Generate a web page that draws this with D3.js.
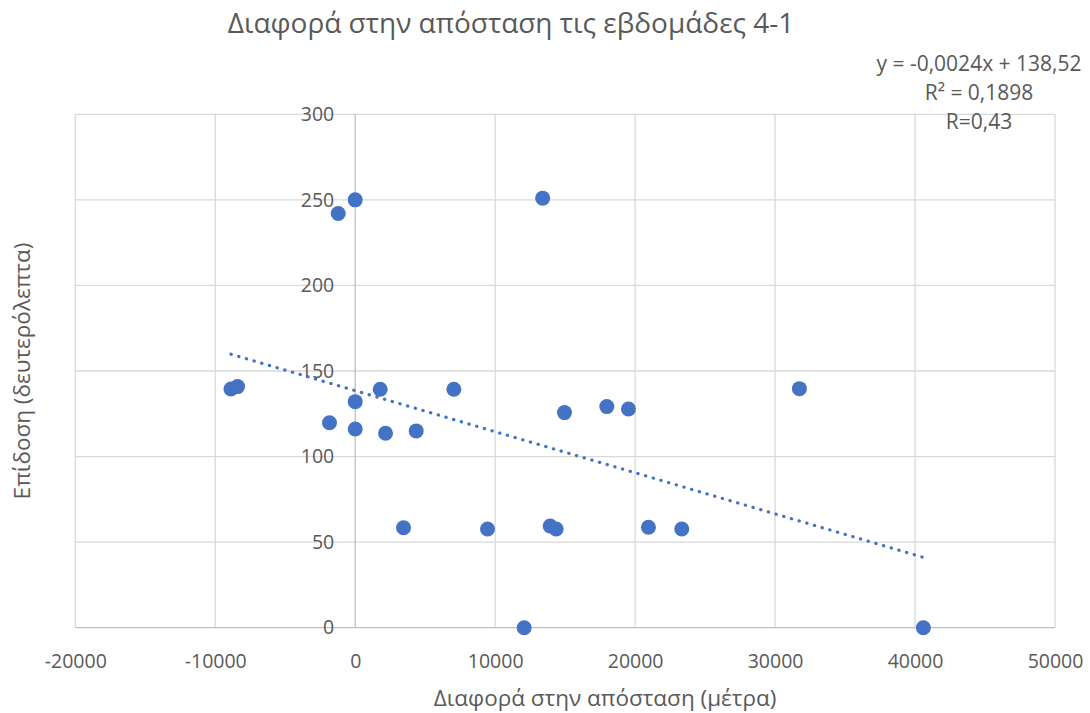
<!DOCTYPE html>
<html>
<head>
<meta charset="utf-8">
<script src="https://cdn.jsdelivr.net/npm/d3@7"></script>
<style>
  html, body { margin: 0; padding: 0; background: #fff; }
  svg text { font-family: "Open Sans", "Liberation Sans", sans-serif; fill: #595959; }
</style>
</head>
<body>
<svg id="chart" width="1090" height="713"></svg>
<script>
// Distance difference (m) between weeks 4 and 1, and performance (s)
const distanceDiff = [-8879, -8407, -1836, -1214, 0, 0, 0, 1786, 2167, 3452, 4357, 7048,
                      9452, 12071, 13393, 13929, 14357, 14952, 17976, 19524, 20952, 23333, 31738, 40595];
const performance  = [139.5, 140.9, 119.8, 242, 250, 132.1, 116.1, 139.3, 113.6, 58.4, 115, 139.3,
                      57.7, 0, 251, 59.4, 57.7, 125.7, 129.2, 127.8, 58.7, 57.7, 139.7, 0];

const xTicks = [-20000, -10000, 0, 10000, 20000, 30000, 40000, 50000];
const yTicks = [0, 50, 100, 150, 200, 250, 300];

// Linear trend line coefficients
const slope = -0.0024;
const intercept = 138.52;
const trendLabels = ["y = -0,0024x + 138,52", "R² = 0,1898", "R=0,43"];

const titleText = "Διαφορά στην απόσταση τις εβδομάδες 4-1";
const xTitle = "Διαφορά στην απόσταση (μέτρα)";
const yTitle = "Επίδοση (δευτερόλεπτα)";

const svg = d3.select("#chart");
const blue = "#4472C4";

const x = d3.scaleLinear().domain([-20000, 50000]).range([75.3, 1055]);
const y = d3.scaleLinear().domain([0, 300]).range([627.7, 114.3]);

// Grid
const grid = svg.append("g");
grid.selectAll("line.v").data(xTicks.filter(d => d !== 0)).join("line")
  .attr("x1", d => x(d)).attr("x2", d => x(d))
  .attr("y1", y(300)).attr("y2", y(0))
  .attr("stroke", "#d9d9d9").attr("stroke-width", 1.3);
grid.selectAll("line.h").data(yTicks.filter(d => d !== 0)).join("line")
  .attr("x1", x(-20000)).attr("x2", x(50000))
  .attr("y1", d => y(d)).attr("y2", d => y(d))
  .attr("stroke", "#d9d9d9").attr("stroke-width", 1.3);

// Axis lines through zero
svg.append("line").attr("x1", x(0)).attr("x2", x(0)).attr("y1", y(300)).attr("y2", y(0))
  .attr("stroke", "#bfbfbf").attr("stroke-width", 1.3);
svg.append("line").attr("x1", x(-20000)).attr("x2", x(50000)).attr("y1", y(0)).attr("y2", y(0))
  .attr("stroke", "#bfbfbf").attr("stroke-width", 1.3);

// X tick labels along the bottom
const xAxis = d3.axisBottom(x).tickValues(xTicks).tickSize(0).tickPadding(0);
const gx = svg.append("g").attr("transform", `translate(0,${y(0) + 34})`).call(xAxis);
gx.select(".domain").remove();
gx.selectAll("text").attr("font-size", 19.5).attr("fill", "#595959")
  .attr("font-family", "Open Sans").attr("dy", "0.32em").text(d => d3.format("d")(d).replace("−", "-"));

// Y tick labels next to the vertical zero axis
const yAxis = d3.axisLeft(y).tickValues(yTicks).tickSize(0).tickPadding(0);
const gy = svg.append("g").attr("transform", `translate(${x(0) - 21},0)`).call(yAxis);
gy.select(".domain").remove();
gy.selectAll("text").attr("font-size", 19.5).attr("fill", "#595959").attr("font-family", "Open Sans");

// Trend line across the data range
const xr = d3.extent(distanceDiff);
svg.append("line")
  .attr("x1", x(xr[0])).attr("y1", y(slope * xr[0] + intercept))
  .attr("x2", x(xr[1])).attr("y2", y(slope * xr[1] + intercept))
  .attr("stroke", blue).attr("stroke-width", 3.2)
  .attr("stroke-linecap", "round").attr("stroke-dasharray", "0.3 7.7");

// Points
svg.append("g").selectAll("circle").data(distanceDiff.map((d, i) => [d, performance[i]])).join("circle")
  .attr("cx", d => x(d[0])).attr("cy", d => y(d[1])).attr("r", 7.5).attr("fill", blue);

// Trend equation label
svg.append("g").selectAll("text").data(trendLabels).join("text")
  .attr("x", 979).attr("y", (d, i) => 64 + i * 29)
  .attr("dy", "0.35em").attr("text-anchor", "middle").attr("font-size", 21)
  .text(d => d);

// Titles
svg.append("text").attr("x", 511).attr("y", 23).attr("dy", "0.35em")
  .attr("text-anchor", "middle").attr("font-size", 28).text(titleText);
svg.append("text").attr("x", 605).attr("y", 698).attr("dy", "0.35em")
  .attr("text-anchor", "middle").attr("font-size", 22.5).text(xTitle);
svg.append("text").attr("transform", `translate(22,371) rotate(-90)`).attr("dy", "0.35em")
  .attr("text-anchor", "middle").attr("font-size", 22.5).text(yTitle);
</script>
</body>
</html>
